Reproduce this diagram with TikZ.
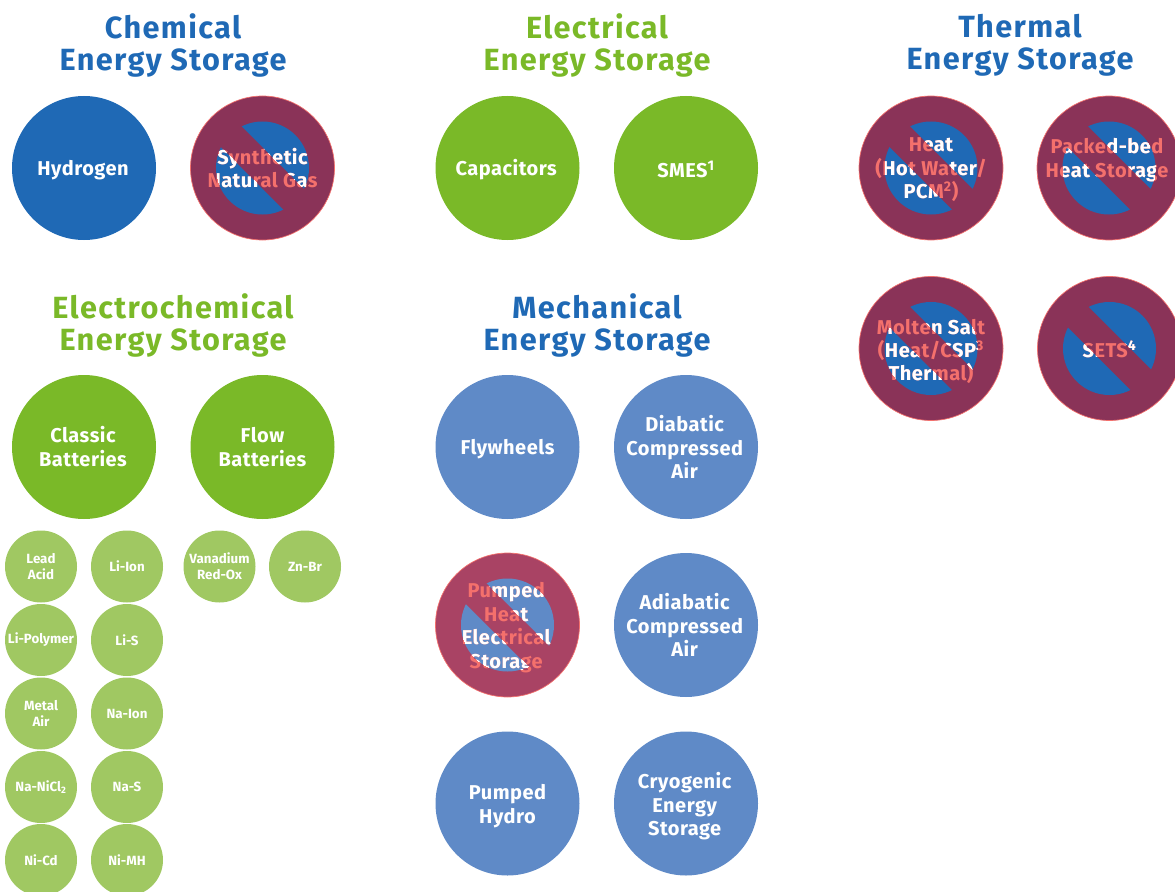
\documentclass[tikz,border=0pt]{standalone}
\usepackage{fontspec}
\setmainfont{Fira Sans}
\definecolor{chemblue}{HTML}{1F69B5}
\definecolor{elgreen}{HTML}{7AB928}
\definecolor{mechblue}{HTML}{5F8AC7}
\definecolor{smallgreen}{HTML}{A0C862}
\definecolor{maroon}{HTML}{8A3358}
\definecolor{rose}{HTML}{A94364}
\definecolor{salmon}{HTML}{F4706C}
\newfontfamily\titleface[LetterSpace=4.6]{Fira Sans}
\newfontfamily\ballface[LetterSpace=2.5]{Fira Sans}
\tikzset{
  x=0.75pt,y=0.75pt,
  title/.style={font=\titleface\bfseries\fontsize{23}{24}\selectfont,align=center,inner sep=0pt},
  disc/.style={circle,minimum size=108pt,inner sep=0pt},
  balltext/.style={inner sep=0pt,align=center,font=\ballface\bfseries\fontsize{15}{17.6}\selectfont},
  tinyball/.style={circle,minimum size=54pt,inner sep=0pt,text=white,align=center,fill=smallgreen,font=\bfseries\fontsize{10}{12}\selectfont},
}
% name, x, y, fill colour, label options, text
\newcommand\plainball[6]{%
  \node[disc,fill=#4] (#1) at (#2,-#3) {};
  \node[balltext,text=white,#5] (#1-t) at (#1.center) {#6};
}
% name, x, y, outer colour, inner colour, label options, text
\newcommand\banball[7]{%
  \node[disc,fill=#4,draw=salmon,line width=0.5pt] (#1) at (#2,-#3) {};
  \fill[#5] (#1.center) circle (46.5);
  \fill[#4,shift={(#1.center)},rotate=-45] (-48,-14.5) rectangle (48,14.5);
  \node[balltext,text=salmon,#6] (#1-t) at (#1.center) {#7};
  \begin{scope}
    \clip (#1.center) circle (46.5);
    \clip[shift={(#1.center)},rotate=-45] (-60,14.5) rectangle (60,60)
          (-60,-14.5) rectangle (60,-60);
    \node[balltext,text=white,#6] (#1-w) at (#1.center) {#7};
  \end{scope}
}
\begin{document}
\begin{tikzpicture}
\useasboundingbox (0,0) rectangle (1175,-892);
\clip (0,0) rectangle (1175,-892);
% titles
\node[title,text=chemblue] (tchem) at (173,-45) {Chemical\\Energy Storage};
\node[title,text=elgreen] (telec) at (597,-45) {Electrical\\Energy Storage};
\node[title,text=chemblue] (ttherm) at (1020,-45) {Thermal\\Energy Storage};
\node[title,text=elgreen] (techem) at (173,-325) {Electrochemical\\Energy Storage};
\node[title,text=chemblue] (tmech) at (597,-325) {Mechanical\\Energy Storage};
% chemical
\plainball{hydrogen}{84}{168}{chemblue}{yshift=-1.5pt,xshift=-0.75pt}{Hydrogen}
\banball{sng}{262.5}{168}{maroon}{chemblue}{}{Synthetic\\Natural Gas}
% electrical
\plainball{cap}{507.5}{168}{elgreen}{yshift=-1.5pt,xshift=-1pt}{Capacitors}
\plainball{smes}{686}{168}{elgreen}{yshift=-0.75pt}{SMES\textsuperscript{1}}
% thermal
\banball{heat}{931}{168}{maroon}{chemblue}{yshift=-1.5pt}{Heat\\(Hot Water/\\PCM\textsuperscript{2})}
\banball{packed}{1109}{168}{maroon}{chemblue}{yshift=6pt,xshift=-1.5pt}{Packed-bed\\Heat Storage}
\banball{molten}{931}{348.5}{maroon}{chemblue}{yshift=-2.25pt}{Molten Salt\\(Heat/CSP\textsuperscript{3}\\Thermal)}
\banball{sets}{1109.5}{348.5}{maroon}{chemblue}{yshift=-0.75pt}{SETS\textsuperscript{4}}
% electrochemical
\plainball{classic}{84}{447}{elgreen}{yshift=0.5pt,xshift=-0.75pt}{Classic\\Batteries}
\plainball{flow}{262.5}{447}{elgreen}{}{Flow\\Batteries}
\node[tinyball] (lead) at (41,-566.5) {Lead\\Acid};
\node[tinyball] (liion) at (127,-566.5) {Li-Ion};
\node[tinyball] (vanadium) at (219.5,-566.5) {Vanadium\\Red-Ox};
\node[tinyball] (znbr) at (305,-566.5) {Zn-Br};
\node[tinyball] (lipoly) at (41,-640) {Li-Polymer};
\node[tinyball] (lis) at (127,-640) {Li-S};
\node[tinyball] (metal) at (41,-713.5) {Metal\\Air};
\node[tinyball] (naion) at (127,-713.5) {Na-Ion};
\node[tinyball] (nanicl) at (41,-787) {Na-NiCl\textsubscript{2}};
\node[tinyball] (nas) at (127,-787) {Na-S};
\node[tinyball] (nicd) at (41,-860) {Ni-Cd};
\node[tinyball] (nimh) at (127,-860) {Ni-MH};
% mechanical
\plainball{fly}{507.5}{447}{mechblue}{yshift=-1.5pt}{Flywheels}
\plainball{diab}{686}{447}{mechblue}{xshift=-1pt}{Diabatic\\Compressed\\Air}
\banball{phes}{507.5}{625}{rose}{mechblue}{yshift=-2pt,xshift=-1pt}{Pumped\\Heat\\Electrical\\Storage}
\plainball{adiab}{686}{625}{mechblue}{xshift=-1pt}{Adiabatic\\Compressed\\Air}
\plainball{hydro}{507.5}{803.5}{mechblue}{yshift=-2pt}{Pumped\\Hydro}
\plainball{cryo}{686}{803.5}{mechblue}{yshift=-2pt,xshift=-1pt}{Cryogenic\\Energy\\Storage}
\end{tikzpicture}
\end{document}
